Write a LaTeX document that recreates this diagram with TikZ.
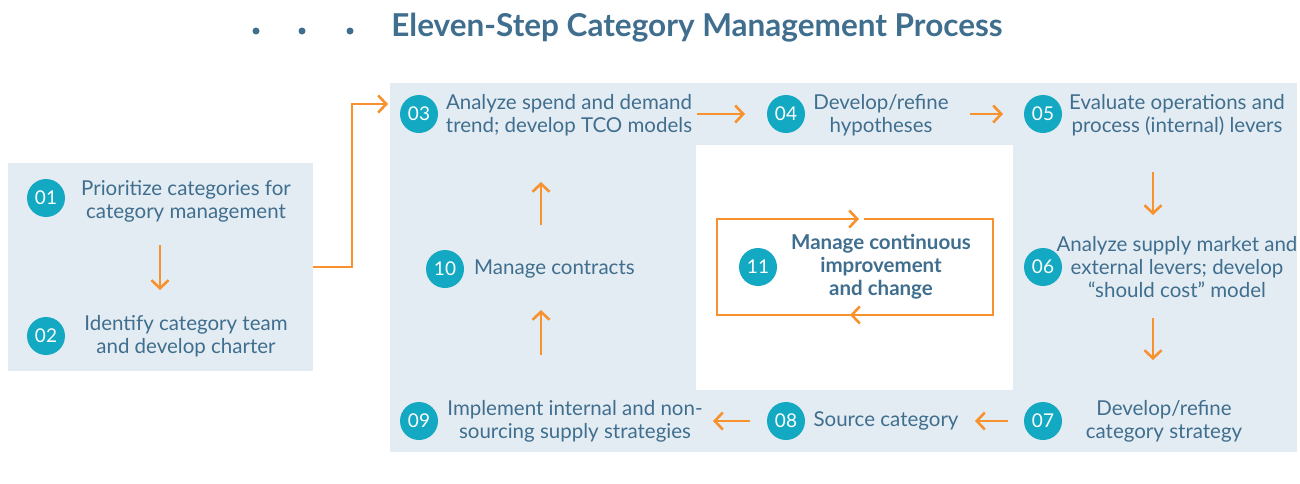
\documentclass[tikz,border=0pt]{standalone}
\usepackage{fontspec}
\setmainfont{Lato}
\usetikzlibrary{arrows.meta}
\definecolor{bgc}{HTML}{E4ECF3}
\definecolor{teal}{HTML}{13A9C2}
\definecolor{txt}{HTML}{3F6E8E}
\definecolor{org}{HTML}{F7922E}
\tikzset{
 num/.style={circle,fill=teal,minimum size=38pt,inner sep=0pt,text=white,font=\fontsize{19}{19}\selectfont},
 lbl/.style={text=txt,align=center,font=\fontsize{20.5}{23}\selectfont,inner sep=0pt},
 arr/.style={draw=org,line width=2.6pt,-{Straight Barb[length=8pt,width=17pt,line width=2.6pt]}}
}
\begin{document}
\begin{tikzpicture}[x=1pt,y=-1pt]
\useasboundingbox (0,0) rectangle (1300,483);
\fill[bgc] (8,163) rectangle (313,371);
\fill[bgc] (390,83) rectangle (1297,452);
\fill[white] (696,145) rectangle (1013,390);
\node[text=txt,font=\bfseries\fontsize{31.5}{33}\selectfont] (title) at (697,28) {Eleven-Step Category Management Process};
\foreach \x/\n in {256/d1,302/d2,350/d3}\fill[txt] (\x,31) circle (3.5pt);
\node[num] (n01) at (46,198) {01};
\node[lbl] (t01) at (186,201) {Prioritize categories for\\category management};
\node[num] (n02) at (46,336) {02};
\node[lbl] (t02) at (186,336) {Identify category team\\and develop charter};
\node[num] (n03) at (419,114) {03};
\node[lbl] (t03) at (569,115) {Analyze spend and demand\\trend; develop TCO models};
\node[num] (n04) at (786,114) {04};
\node[lbl] (t04) at (881,115) {Develop/refine\\hypotheses};
\node[num] (n05) at (1043,114) {05};
\node[lbl] (t05) at (1177,115) {Evaluate operations and\\process (internal) levers};
\node[num] (n06) at (1043,267) {06};
\node[lbl] (t06) at (1177,267) {Analyze supply market and\\external levers; develop\\“should cost” model};
\node[num] (n07) at (1043,421) {07};
\node[lbl] (t07) at (1164,421) {Develop/refine\\category strategy};
\node[num] (n08) at (786,421) {08};
\node[lbl] (t08) at (886,421) {Source category};
\node[num] (n09) at (419,421) {09};
\node[lbl] (t09) at (575,421) {Implement internal and non-\\sourcing supply strategies};
\node[num] (n10) at (445,269) {10};
\node[lbl,anchor=west] (t10) at (474,269) {Manage contracts};
\node[num] (n11) at (758,267) {11};
\node[lbl,font=\bfseries\fontsize{20.5}{23}\selectfont] (t11) at (881,267) {Manage continuous\\improvement\\and change};
% connectors
\coordinate (a1) at (160,245); \coordinate (a2) at (160,290);
\draw[arr] (a1) -- (a2);
\coordinate (e1) at (313,267); \coordinate (e2) at (388,104);
\draw[arr] (e1) -- (352,267) -- (352,104) -- (e2);
\coordinate (b1) at (697,114); \coordinate (b2) at (745,114);
\draw[arr] (b1) -- (b2);
\coordinate (c1) at (970,114); \coordinate (c2) at (1003,114);
\draw[arr] (c1) -- (c2);
\coordinate (d1) at (1153,172); \coordinate (d2) at (1153,215);
\draw[arr] (d1) -- (d2);
\coordinate (f1) at (1153,318); \coordinate (f2) at (1153,360);
\draw[arr] (f1) -- (f2);
\coordinate (g1) at (1008,421); \coordinate (g2) at (975,421);
\draw[arr] (g1) -- (g2);
\coordinate (h1) at (750,421); \coordinate (h2) at (713,421);
\draw[arr] (h1) -- (h2);
\coordinate (i1) at (541,355); \coordinate (i2) at (541,310);
\draw[arr] (i1) -- (i2);
\coordinate (j1) at (541,225); \coordinate (j2) at (541,182);
\draw[arr] (j1) -- (j2);
% loop
\coordinate (k1) at (717,219); \coordinate (k2) at (859,219);
\coordinate (k3) at (993,315); \coordinate (k4) at (850,315);
\draw[arr] (k3) -- (717,315) -- (k1) -- (k2);
\draw[arr] (864,219) -- (993,219) -- (k3) -- (k4);
\end{tikzpicture}
\end{document}
